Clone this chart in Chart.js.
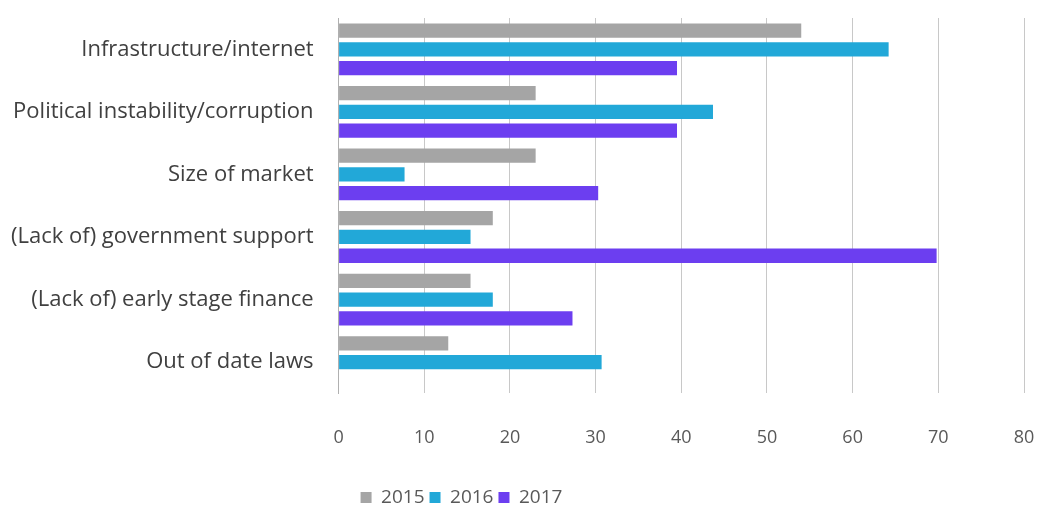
<!DOCTYPE html>
<html>
<head>
<meta charset="utf-8">
<script src="https://cdn.jsdelivr.net/npm/chart.js@4"></script>
<style>
  html, body { margin: 0; padding: 0; background: #fff; }
  #wrap { width: 1041px; height: 508px; }
</style>
</head>
<body>
<div id="wrap"><canvas id="chart"></canvas></div>
<script>
const categories = [
    'Infrastructure/internet',
    'Political instability/corruption',
    'Size of market',
    '(Lack of) government support',
    '(Lack of) early stage finance',
    'Out of date laws'
];
const years = ['2015', '2016', '2017'];
const values2015 = [54, 23, 23, 18, 15.4, 12.8];
const values2016 = [64.2, 43.7, 7.7, 15.4, 18, 30.7];
const values2017 = [39.5, 39.5, 30.3, 69.8, 27.3, 0];
const xTicks = [0, 10, 20, 30, 40, 50, 60, 70, 80];

const colors = ['#a5a5a5', '#22a8d8', '#6c3ef0'];
const font = 'Open Sans';

// legend sits a bit left of the canvas centre and close to the bottom edge
const legendShift = {
    id: 'legendShift',
    afterLayout(chart) {
        const lg = chart.legend;
        lg.left -= 56;
        lg.right -= 56;
        lg.top += 9;
        lg.bottom += 9;
    }
};

const ctx = document.querySelector('#chart').getContext('2d');
let chart = new Chart(ctx, {
    type: 'bar',
    data: {
        labels: categories,
        datasets: [values2015, values2016, values2017].map((d, i) => ({
            label: years[i],
            data: d,
            backgroundColor: colors[i],
            categoryPercentage: 0.9,
            barPercentage: 0.76
        }))
    },
    plugins: [legendShift],
    options: {
        indexAxis: 'y',
        responsive: true,
        maintainAspectRatio: false,
        animation: false,
        layout: { padding: { left: 11, right: 17, top: 18, bottom: 0 } },
        scales: {
            x: {
                min: 0,
                max: 80,
                afterBuildTicks: axis => { axis.ticks = xTicks.map(v => ({ value: v })); },
                afterFit: axis => {
                    axis.paddingLeft = 0;
                    axis.paddingRight = 10;
                    axis.height -= 9;
                },
                grid: { color: '#c8c8c8', lineWidth: 1, drawTicks: false },
                border: { display: false },
                ticks: { color: '#595959', padding: 34, font: { family: font, size: 18 } }
            },
            y: {
                afterFit: axis => {
                    axis.paddingTop = 0;
                    axis.paddingBottom = 0;
                    axis.width -= 25;
                },
                grid: { display: false, drawTicks: false },
                border: { display: true, color: '#b0b0b0' },
                ticks: { color: '#404040', padding: 25, font: { family: font, size: 22 } }
            }
        },
        plugins: {
            legend: {
                position: 'bottom',
                labels: {
                    boxWidth: 11,
                    boxHeight: 11,
                    padding: 5,
                    color: '#595959',
                    font: { family: font, size: 19 }
                }
            },
            tooltip: { enabled: false }
        }
    }
});
</script>
</body>
</html>
